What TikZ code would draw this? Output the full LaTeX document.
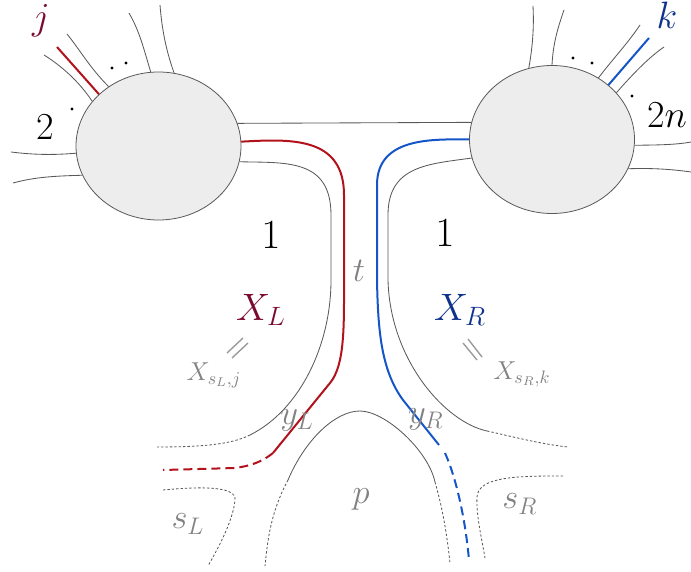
\documentclass[tikz,border=0pt]{standalone}
\usetikzlibrary{shapes.geometric}
\definecolor{lineRed}{RGB}{178,18,28}
\definecolor{lineBlue}{RGB}{20,85,200}
\definecolor{textRed}{RGB}{122,10,50}
\definecolor{textBlue}{RGB}{15,50,140}
\definecolor{softGray}{RGB}{130,130,130}
\tikzset{
  blob/.style={draw=black!65,fill=black!7,ellipse,inner sep=0pt,minimum width=82.5pt,minimum height=74pt,line width=0.4pt},
  leg/.style={black!65,line width=0.42pt},
  legdash/.style={black!65,line width=0.42pt,dash pattern=on 1.2pt off 1pt},
  redpath/.style={lineRed,line width=1pt},
  bluepath/.style={lineBlue,line width=1pt},
  softlabel/.style={softGray,font=\LARGE},
  bigtext/.style={font=\huge,scale=0.92},
  digittext/.style={font=\huge},
  smalltext/.style={softGray,font=\Large,scale=0.9},
  equalbar/.style={softGray!80,line width=0.7pt}
}
\begin{document}
\begin{tikzpicture}[x=0.5pt,y=-0.5pt]
\useasboundingbox (0,0) rectangle (691,572);
% blobs
\node[blob] (blobL) at (158.5,146) {};
\node[blob] (blobR) at (552,139.5) {};
% free ends
\coordinate (redL) at (273,453);
\coordinate (blueR) at (439,445);
\coordinate (blueDash) at (445,453);
\coordinate (outerL) at (250,435);
\coordinate (outerR) at (487,431);
\coordinate (capL) at (288,480);
\coordinate (capR) at (435,482);
% legs on the left blob
\draw[leg] (blobL.146.5) .. controls (78,80) and (60,65) .. (44,55);
\draw[leg] (blobL.130) .. controls (90,68) and (80,50) .. (67,34);
\draw[leg] (blobL.96.5) .. controls (144,50) and (140,32) .. (129,13);
\draw[leg] (blobL.78) .. controls (166,50) and (162,30) .. (160,5);
\draw[leg] (blobL.185) .. controls (55,155) and (35,155) .. (11,152);
\draw[leg] (blobL.201) .. controls (55,176) and (35,177) .. (13,183);
\draw[redpath] (blobL.139.4) -- (57,47);
% legs on the right blob
\draw[leg] (blobR.108.5) .. controls (533,45) and (534,25) .. (533,6);
\draw[leg] (blobR.90) .. controls (553,45) and (557,30) .. (564,10);
\draw[leg] (blobR.53.6) .. controls (612,60) and (628,43) .. (640,25);
\draw[leg] (blobR.36.6) .. controls (632,75) and (648,58) .. (664,47);
\draw[leg] (blobR.-4.5) .. controls (655,145) and (675,145) .. (691,142);
\draw[leg] (blobR.-21) .. controls (650,168) and (670,169) .. (691,172);
\draw[bluepath] (blobR.44) -- (649,38);
% propagator between blobs
\draw[leg] (blobL.16.5) -- (blobR.168);
% left side
\draw[redpath] (blobL.3.5) .. controls (290,139) and (344,136) .. (344,195) -- (344,280) .. controls (344,325) and (345,365) .. (330,383) -- (redL);
\draw[redpath,dash pattern=on 4.5pt off 2.5pt] (redL) .. controls (262,462) and (250,466) .. (235,468) -- (163,470);
\draw[leg] (blobL.-11.8) .. controls (285,163) and (331,158) .. (331,215) -- (331,280) .. controls (331,345) and (300,410) .. (outerL);
\draw[legdash] (outerL) .. controls (232,444) and (205,447) .. (157,447);
\draw[legdash] (163,490) .. controls (195,487) and (237,485) .. (235,500) .. controls (233,520) and (220,545) .. (208,566);
% right side
\draw[bluepath] (blobR.180) .. controls (430,139) and (377,138) .. (377,185) -- (377,280) .. controls (378,330) and (381,370) .. (403,400) -- (blueR);
\draw[bluepath,dash pattern=on 4.5pt off 2.5pt] (blueDash) .. controls (455,475) and (465,515) .. (469,560);
\draw[leg] (blobR.193) .. controls (430,164) and (388,165) .. (388,215) -- (388,280) .. controls (390,360) and (445,422) .. (outerR);
\draw[legdash] (outerR) .. controls (510,436) and (540,444) .. (568,447);
\draw[legdash] (563,476) .. controls (520,476) and (478,476) .. (477,497) .. controls (476,515) and (482,540) .. (485,558);
% middle
\draw[leg] (capL) .. controls (305,440) and (335,411) .. (360,411) .. controls (385,411) and (428,450) .. (capR);
\draw[legdash] (capL) .. controls (272,510) and (268,535) .. (265,566);
\draw[legdash] (capR) .. controls (443,510) and (447,535) .. (450,563);
% equal signs
\draw[equalbar] (227,353) -- (243,338);
\draw[equalbar] (232,358) -- (248,343);
\draw[equalbar] (463,343) -- (477,360);
\draw[equalbar] (468,339) -- (482,357);
% dots
\foreach \x/\y in {112/68,126/63,72/109,573/58,592/63,632/96}
  \fill (\x,\y) circle (0.8pt);
% labels
\node[bigtext,text=textRed] (labelJ) at (41,21) {$j$};
\node[bigtext,text=textBlue] (labelK) at (667,15) {$k$};
\node[bigtext] (labelTwo) at (45,127) {$2$};
\node[bigtext] (labelTwoN) at (667,115) {$2n$};
\node[digittext] (labelOneL) at (271,235) {$1$};
\node[digittext] (labelOneR) at (445,233) {$1$};
\node[bigtext,text=textRed] (labelXL) at (261,310) {$X_L$};
\node[bigtext,text=textBlue] (labelXR) at (460,310) {$X_R$};
\node[softlabel] (labelT) at (359,271) {$t$};
\node[softlabel] (labelP) at (361,499) {$p$};
\node[softlabel] (labelYL) at (297,420) {$y_L$};
\node[softlabel] (labelYR) at (426,419) {$y_R$};
\node[softlabel] (labelSL) at (188,524) {$s_L$};
\node[softlabel] (labelSR) at (520,504) {$s_R$};
\node[smalltext] (labelXSL) at (214,375) {$X_{s_L,j}$};
\node[smalltext] (labelXSR) at (522,374) {$X_{s_R,k}$};
\end{tikzpicture}
\end{document}
